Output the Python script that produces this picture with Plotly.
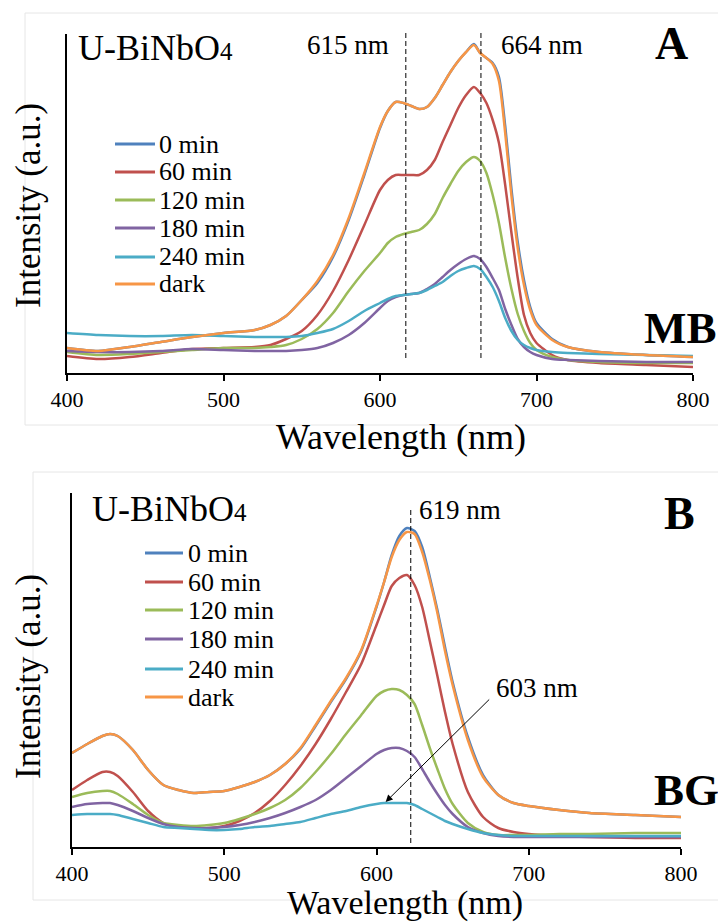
import plotly.graph_objects as go

# page body has an 8px default margin: the figure is sized to fill the rest of the 726x924 window
OFF = 8
W, H = 726 - OFF, 924 - OFF

# ---------------- Panel A (MB) ----------------
wavelength_a = [400, 420, 440, 460, 480, 500, 520, 530, 540, 550, 560, 570, 580, 590, 600, 605, 610,
                615, 620, 625, 630, 635, 640, 645, 650, 655, 660, 664, 668, 672, 676, 680, 684, 688,
                692, 696, 700, 710, 720, 740, 770, 800]
mb_0 = [25, 22, 26, 31, 36, 40, 43, 48, 57, 73, 90, 116, 153, 198, 245, 262, 271, 270, 267, 264, 266,
        275, 288, 301, 312, 321, 329, 320, 315, 310, 296, 247, 184, 131, 93, 66, 50, 34, 26, 21, 18, 16]
mb_60 = [17, 14, 16, 20, 24, 25, 26, 28, 34, 42, 58, 82, 113, 148, 183, 193, 198, 198, 198, 198, 203,
         213, 231, 248, 265, 278, 286, 280, 270, 253, 230, 188, 140, 95, 58, 40, 30, 18, 13, 10, 8, 6]
mb_120 = [21, 18, 19, 21, 23, 25, 25, 26, 28, 34, 44, 60, 82, 102, 120, 130, 136, 139, 141, 143, 149,
          159, 175, 189, 202, 211, 216, 212, 200, 178, 150, 115, 84, 59, 42, 30, 23, 16, 13, 11, 10, 10]
mb_180 = [22, 21, 21, 22, 24, 23, 22, 22, 22, 23, 25, 30, 38, 50, 65, 72, 76, 78, 79, 80, 84, 89, 96,
          103, 109, 114, 117, 114, 106, 95, 83, 64, 48, 34, 26, 21, 18, 14, 13, 12, 11, 11]
mb_240 = [40, 38, 37, 37, 38, 37, 36, 36, 36, 37, 40, 44, 52, 62, 70, 74, 77, 78, 79, 80, 83, 87, 91,
          97, 102, 105, 107, 104, 96, 86, 72, 55, 42, 33, 28, 25, 23, 21, 20, 19, 18, 17]
mb_dark = [25, 22, 26, 31, 36, 40, 43, 48, 57, 73, 92, 118, 155, 200, 246, 262, 271, 270, 267, 264, 266,
           275, 288, 301, 312, 321, 328, 320, 315, 309, 292, 240, 177, 125, 88, 63, 48, 33, 26, 21, 18, 16]

# ---------------- Panel B (BG) ----------------
wavelength_b = [400, 410, 420, 425, 430, 440, 450, 460, 470, 480, 490, 500, 510, 520, 530, 540, 550,
                560, 570, 580, 590, 600, 605, 610, 615, 620, 625, 630, 635, 640, 645, 650, 660, 670,
                680, 690, 700, 720, 740, 770, 800]
bg_0 = [94, 103, 111, 113, 111, 97, 77, 62, 57, 54, 55, 56, 60, 65, 72, 83, 98, 121, 145, 168, 196, 240,
        265, 292, 311, 319, 316, 300, 270, 237, 200, 165, 110, 72, 52, 44, 41, 37, 34, 32, 30]
bg_60 = [57, 67, 75, 75, 71, 55, 36, 24, 20, 19, 19, 21, 26, 34, 46, 62, 81, 103, 128, 155, 183, 222, 242,
         261, 269, 272, 262, 240, 206, 171, 135, 103, 55, 30, 19, 15, 13, 11, 10, 9, 9]
bg_120 = [50, 54, 56, 56, 53, 43, 32, 24, 22, 21, 22, 24, 28, 33, 39, 47, 59, 75, 93, 113, 132, 151, 156,
          158, 157, 152, 143, 122, 99, 78, 58, 43, 24, 15, 12, 12, 12, 13, 13, 14, 14]
bg_180 = [40, 43, 44, 44, 42, 36, 29, 23, 20, 19, 19, 20, 22, 25, 29, 34, 40, 47, 57, 69, 81, 93, 97, 99,
          99, 96, 90, 78, 65, 53, 42, 33, 20, 14, 11, 10, 10, 10, 10, 10, 10]
bg_240 = [32, 33, 33, 33, 32, 28, 24, 20, 19, 18, 17, 17, 18, 20, 21, 23, 25, 29, 33, 36, 40, 43, 44, 44,
          44, 44, 42, 38, 34, 30, 26, 23, 18, 14, 12, 11, 11, 11, 11, 11, 11]
bg_dark = [94, 103, 111, 113, 111, 97, 77, 62, 57, 54, 55, 56, 60, 65, 72, 83, 99, 122, 146, 169, 197, 241,
           265, 290, 307, 315, 313, 295, 267, 234, 196, 162, 107, 70, 52, 44, 41, 37, 34, 32, 30]

series_names = ["0 min", "60 min", "120 min", "180 min", "240 min", "dark"]
series_colors = ["#4F81BD", "#C0504D", "#9BBB59", "#8064A2", "#4BACC6", "#F79646"]
tick_values = [400, 500, 600, 700, 800]
mb_marks = [616.5, 664.5]
mb_mark_labels = ["615 nm", "664 nm"]
bg_mark = 622.5
bg_mark_label = "619 nm"
bg_shift_label = "603 nm"

FONT = "Liberation Serif, Times New Roman, serif"


def px(x):
    """window pixel x -> paper fraction"""
    return (x - OFF) / W


def py(y):
    """window pixel y -> paper fraction"""
    return 1 - (y - OFF) / H


fig = go.Figure()

mb_series = [mb_0, mb_60, mb_120, mb_180, mb_240, mb_dark]
bg_series = [bg_0, bg_60, bg_120, bg_180, bg_240, bg_dark]
for name, col, ya in zip(series_names, series_colors, mb_series):
    fig.add_trace(go.Scatter(x=wavelength_a, y=ya, mode="lines", name=name, showlegend=False,
                             line=dict(color=col, width=2.5, shape="spline", smoothing=0.7),
                             xaxis="x", yaxis="y"))
for name, col, yb in zip(series_names, series_colors, bg_series):
    fig.add_trace(go.Scatter(x=wavelength_b, y=yb, mode="lines", name=name, showlegend=False,
                             line=dict(color=col, width=2.5, shape="spline", smoothing=0.7),
                             xaxis="x2", yaxis="y2"))

xcommon = dict(range=[400, 800], showline=True, linecolor="black", linewidth=2, ticks="outside",
               ticklen=6, tickwidth=2, tickcolor="black", tickvals=tick_values, showgrid=False,
               zeroline=False, automargin=False,
               tickfont=dict(family=FONT, size=22, color="black"))
ycommon = dict(showline=True, linecolor="black", linewidth=2, showticklabels=False, ticks="",
               showgrid=False, zeroline=False, automargin=False)

shapes = []
annotations = []

# faint chart-area frames
shapes.append(dict(type="rect", xref="paper", yref="paper", x0=px(25), x1=px(722), y0=py(425), y1=py(13),
                   line=dict(color="#e6e6e6", width=1), layer="below"))
shapes.append(dict(type="rect", xref="paper", yref="paper", x0=px(33), x1=px(720), y0=py(900), y1=py(472),
                   line=dict(color="#e6e6e6", width=1), layer="below"))

# dashed marker lines
for m in mb_marks:
    shapes.append(dict(type="line", xref="x", yref="paper", x0=m, x1=m, y0=py(358), y1=py(32),
                       line=dict(color="black", width=1, dash="5px,3px")))
shapes.append(dict(type="line", xref="x2", yref="paper", x0=bg_mark, x1=bg_mark, y0=py(843), y1=py(508),
                   line=dict(color="black", width=1, dash="5px,3px")))


def text(x, y, s, size, anchor="center", bold=False, angle=0, yanchor="middle"):
    annotations.append(dict(xref="paper", yref="paper", x=px(x), y=py(y), text=s, showarrow=False,
                            xanchor=anchor, yanchor=yanchor, textangle=angle,
                            font=dict(family=FONT, size=size, color="black",
                                      weight="bold" if bold else "normal")))


# Panel A texts
text(76, 48, "U-BiNbO<span style='font-size:25px'>4</span>", 36, anchor="left")
text(348, 45, mb_mark_labels[0], 27)
text(542, 45, mb_mark_labels[1], 27)
text(671, 43, "A", 46, bold=True)
text(680, 328, "MB", 45, bold=True)
text(28, 206, "Intensity (a.u.)", 35, angle=-90)
text(401, 437, "Wavelength (nm)", 36)

# Panel B texts
text(90, 509, "U-BiNbO<span style='font-size:25px'>4</span>", 36, anchor="left")
text(460, 510, bg_mark_label, 27)
text(679, 513, "B", 46, bold=True)
text(686, 790, "BG", 45, bold=True)
text(537, 688, bg_shift_label, 27)
text(28, 677, "Intensity (a.u.)", 35, angle=-90)
text(405, 924, "Wavelength (nm)", 34, yanchor="bottom")

# arrow for 603 nm
annotations.append(dict(xref="x2", yref="y2", axref="x2", ayref="y2", x=606, y=45, ax=675, ay=149,
                        text="", showarrow=True, arrowhead=2, arrowsize=1.4, arrowwidth=1,
                        arrowcolor="black"))

# manual legends
legend_a_rows = [144, 172, 200, 228, 257, 284]
legend_b_rows = [553, 582, 610, 639, 669, 697]
for (rows, x0, x1, tx) in [(legend_a_rows, 115, 155, 157), (legend_b_rows, 145, 183, 186)]:
    for name, col, r in zip(series_names, series_colors, rows):
        shapes.append(dict(type="line", xref="paper", yref="paper", x0=px(x0), x1=px(x1), y0=py(r), y1=py(r),
                           line=dict(color=col, width=3)))
        text(tx, r, name, 26, anchor="left")

fig.update_layout(
    template="none",
    width=W, height=H, margin=dict(l=0, r=0, t=0, b=0, pad=0),
    paper_bgcolor="white", plot_bgcolor="white", showlegend=False,
    font=dict(family=FONT, color="black"),
    xaxis=dict(domain=[px(67), px(693)], anchor="y", **xcommon),
    yaxis=dict(domain=[py(373), py(34)], range=[0, 339], anchor="x", **ycommon),
    xaxis2=dict(domain=[px(72), px(681)], anchor="y2", **xcommon),
    yaxis2=dict(domain=[py(847), py(493)], range=[0, 354], anchor="x2", **ycommon),
    shapes=shapes, annotations=annotations,
)

fig.write_html("out.html")
